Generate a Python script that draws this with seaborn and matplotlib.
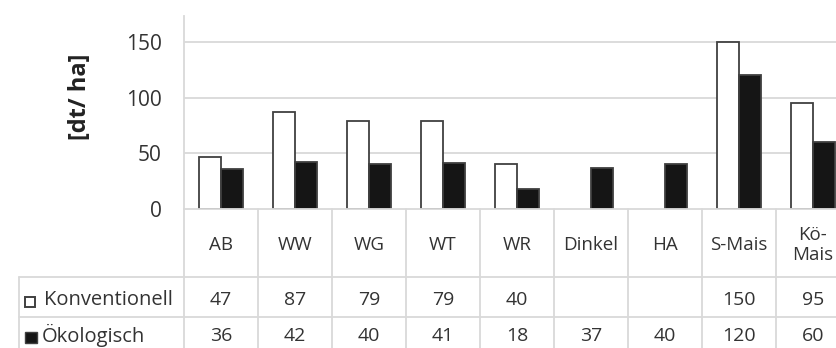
import numpy as np
import pandas as pd
import seaborn as sns
import matplotlib.pyplot as plt
from matplotlib.patches import Rectangle
from matplotlib.transforms import blended_transform_factory

# yields per crop, [dt/ha]
crops = ['AB', 'WW', 'WG', 'WT', 'WR', 'Dinkel', 'HA', 'S-Mais', 'Kö-Mais']
crop_labels = ['AB', 'WW', 'WG', 'WT', 'WR', 'Dinkel', 'HA', 'S-Mais', 'Kö-\nMais']
konventionell = [47, 87, 79, 79, 40, np.nan, np.nan, 150, 95]
oekologisch = [36, 42, 40, 41, 18, 37, 40, 120, 60]
series = ['Konventionell', 'Ökologisch']
yticks = [0, 50, 100, 150]

df = pd.DataFrame({
    'crop': crops * 2,
    'system': ['Konventionell'] * len(crops) + ['Ökologisch'] * len(crops),
    'yield': konventionell + oekologisch,
})

W, H = 837, 348
sns.set_theme(style='white')
plt.rcParams['font.family'] = ['Open Sans', 'DejaVu Sans']
fig = plt.figure(figsize=(W / 100, H / 100), dpi=100)

# helpers: pixel -> figure fraction
def fx(px):
    return px / W

def fy(py):
    return 1 - py / H

grid_c = '#d9d9d9'
text_c = '#333333'

ax = fig.add_axes([fx(184), fy(209), (850 - 184) / W, (209 - 16) / H])
sns.barplot(data=df, x='crop', y='yield', hue='system', order=crops,
            hue_order=series, palette={'Konventionell': 'white', 'Ökologisch': '#151515'},
            edgecolor='#404040', linewidth=1.3, width=0.6, legend=False, ax=ax)

ax.set_xlim(-0.5, len(crops) - 0.5)
ax.set_ylim(0, 173.4)
ax.set_yticks(yticks)
ax.set_yticklabels([str(t) for t in yticks], fontsize=15, color='#333333')
ax.tick_params(axis='y', length=0, pad=16)
ax.set_xticks([])
ax.set_xlabel('')
ax.set_ylabel('')
for t in yticks[1:]:
    ax.axhline(t, color=grid_c, lw=1.3, zorder=0)
for s in ['top', 'right', 'bottom']:
    ax.spines[s].set_visible(False)
ax.spines['left'].set_color(grid_c)
ax.spines['left'].set_linewidth(1.3)

fig.text(fx(80), fy(97), '[dt/ ha]', rotation=90, ha='center', va='center',
         fontsize=17, fontweight='bold', color='#222222')

# data table below the plot
tr = blended_transform_factory(ax.transData, fig.transFigure)
for i in range(len(crops) + 1):
    ax.plot([i - 0.5, i - 0.5], [fy(209), 0], transform=tr, color=grid_c,
            lw=1.3, clip_on=False)
ax.plot([-0.5, len(crops) - 0.5], [fy(209), fy(209)], transform=tr,
        color=grid_c, lw=1.3, clip_on=False)
for py in [277, 317]:
    fig.add_artist(plt.Line2D([fx(19), 1], [fy(py), fy(py)], color=grid_c, lw=1.3))
fig.add_artist(plt.Line2D([fx(19), fx(19)], [fy(277), 0], color=grid_c, lw=1.3))

for i, lab in enumerate(crop_labels):
    ax.text(i, fy(245), lab, transform=tr, ha='center', va='center',
            fontsize=13.5, color=text_c, linespacing=1.2)
for row_y, vals in [(300, konventionell), (336, oekologisch)]:
    for i, v in enumerate(vals):
        if not np.isnan(v):
            ax.text(i, fy(row_y), f'{v:.0f}', transform=tr, ha='center',
                    va='center', fontsize=14, color=text_c)

# row headers with legend keys
fig.add_artist(Rectangle((fx(25), fy(307)), fx(10), 10 / H, facecolor='white',
                         edgecolor='#404040', lw=1.4))
fig.add_artist(Rectangle((fx(25), fy(343)), fx(12), 11 / H, facecolor='#151515',
                         edgecolor='#404040', lw=1.0))
fig.text(fx(44), fy(300), 'Konventionell', ha='left', va='center', fontsize=14.5, color=text_c)
fig.text(fx(42), fy(335), 'Ökologisch', ha='left', va='center', fontsize=14.5, color=text_c)

fig.savefig('out.png', dpi=100)
